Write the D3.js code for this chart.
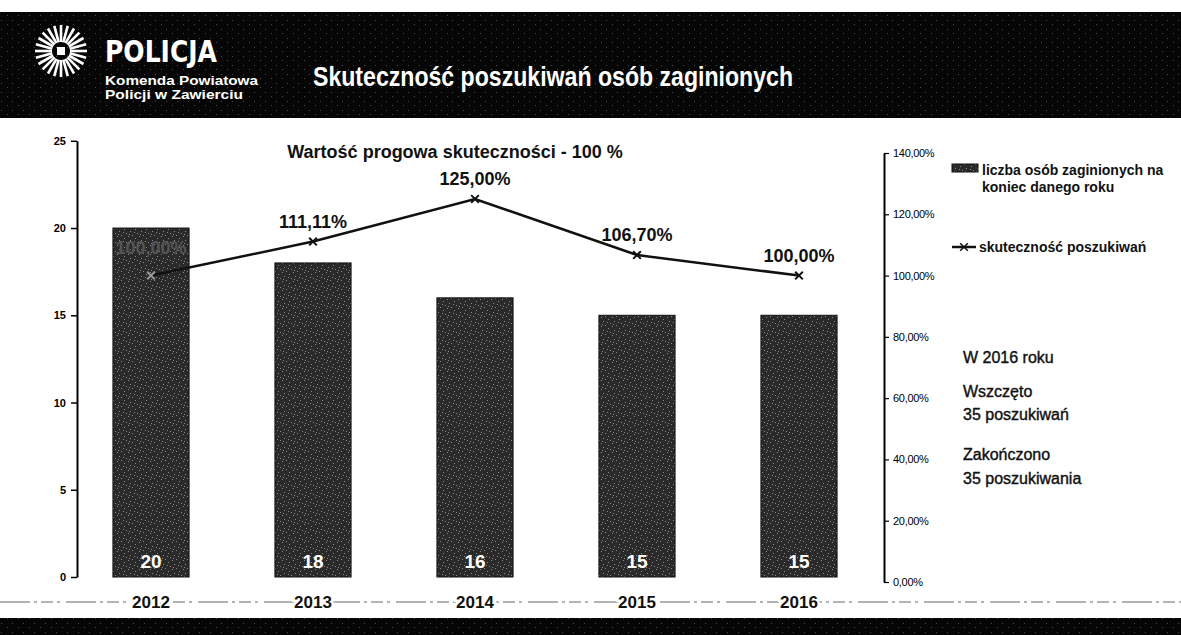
<!DOCTYPE html>
<html>
<head>
<meta charset="utf-8">
<script src="https://cdn.jsdelivr.net/npm/d3@7"></script>
<style>
  html, body { margin: 0; padding: 0; background: #fff; }
  svg { display: block; font-family: "Liberation Sans", Arial, sans-serif; }
</style>
</head>
<body>
<div id="chart"></div>
<script>
const years = ["2012", "2013", "2014", "2015", "2016"];
const missingCount = [20, 18, 16, 15, 15];
const efficiency = [1.0, 1.1111, 1.25, 1.067, 1.0];
const efficiencyLabels = ["100,00%", "111,11%", "125,00%", "106,70%", "100,00%"];
const leftTicks = [0, 5, 10, 15, 20, 25];
const rightTicks = [0, 0.2, 0.4, 0.6, 0.8, 1.0, 1.2, 1.4];
const legendBar = ["liczba osób zaginionych na", "koniec danego roku"];
const legendLine = "skuteczność poszukiwań";
const notes = ["W 2016 roku", "Wszczęto", "35 poszukiwań", "Zakończono", "35 poszukiwania"];

const W = 1181, H = 635;
const svg = d3.select("#chart").append("svg")
    .attr("width", W)
    .attr("height", H);

// speckle textures for the scanned look
var defs = svg.append("defs");
function speckle(id, base, dot, dots) {
    var p = defs.append("pattern")
        .attr("id", id)
        .attr("width", 11).attr("height", 9)
        .attr("patternUnits", "userSpaceOnUse");
    p.append("rect").attr("width", 11).attr("height", 9).attr("fill", base);
    dots.forEach(function(d) {
        p.append("rect").attr("x", d[0]).attr("y", d[1])
            .attr("width", 1).attr("height", 1).attr("fill", dot);
    });
}
speckle("bandNoise", "#060606", "#4a4a4a", [[1, 2], [7, 6]]);
speckle("barNoise", "#2a2a2a", "#8a8a8a", [[0, 1], [3, 4], [7, 2], [9, 6], [5, 8], [2, 7], [8, 0]]);

// header band
svg.append("rect").attr("x", 0).attr("y", 12).attr("width", W).attr("height", 106)
    .attr("fill", "url(#bandNoise)");
svg.append("rect").attr("x", 0).attr("y", 618).attr("width", W).attr("height", 17)
    .attr("fill", "url(#bandNoise)");

// logo star
var star = svg.append("g").attr("transform", "translate(61,51)")
    .attr("stroke", "#fff").attr("stroke-width", 2.6);
d3.range(0, 360, 15).forEach(function(a) {
    var r = a * Math.PI / 180;
    star.append("line")
        .attr("x1", Math.cos(r) * 9).attr("y1", Math.sin(r) * 9)
        .attr("x2", Math.cos(r) * 26).attr("y2", Math.sin(r) * 26);
});
star.append("rect").attr("x", -4).attr("y", -4).attr("width", 8).attr("height", 8)
    .attr("fill", "#fff").attr("stroke", "none");

svg.append("text").attr("x", 105).attr("y", 62)
    .attr("fill", "#fff").attr("font-size", 30).attr("font-weight", "bold")
    .attr("font-family", "'Liberation Sans Narrow', 'DejaVu Sans Condensed', sans-serif")
    .attr("textLength", 112).attr("lengthAdjust", "spacingAndGlyphs")
    .text("POLICJA");
svg.append("text").attr("x", 105).attr("y", 85)
    .attr("fill", "#fff").attr("font-size", 13).attr("font-weight", "bold")
    .attr("textLength", 153).attr("lengthAdjust", "spacingAndGlyphs")
    .text("Komenda Powiatowa");
svg.append("text").attr("x", 105).attr("y", 99)
    .attr("fill", "#fff").attr("font-size", 13).attr("font-weight", "bold")
    .attr("textLength", 138).attr("lengthAdjust", "spacingAndGlyphs")
    .text("Policji w Zawierciu");

svg.append("text").attr("x", 313).attr("y", 86)
    .attr("fill", "#fff").attr("font-size", 28).attr("font-weight", "bold")
    .attr("textLength", 480).attr("lengthAdjust", "spacingAndGlyphs")
    .text("Skuteczność poszukiwań osób zaginionych");

// scales
var x = d3.scaleBand().domain(years).range([70, 880])
    .paddingInner(0.53).paddingOuter(0.265);
var yL = d3.scaleLinear().domain([0, 25]).range([577, 140.8]);
var yR = d3.scaleLinear().domain([0, 1.4]).range([582, 153]);

// dashed baseline
svg.append("line").attr("x1", 0).attr("x2", W).attr("y1", 602).attr("y2", 602)
    .attr("stroke", "#666").attr("stroke-width", 1)
    .attr("stroke-dasharray", "30 4 3 4 12 4 3 6");

// left axis
var axL = svg.append("g").attr("transform", "translate(77,0)")
    .call(d3.axisLeft(yL).tickValues(leftTicks).tickSize(6).tickSizeOuter(0));
axL.select(".domain").attr("stroke", "#000").attr("stroke-width", 2);
axL.selectAll(".tick line").attr("stroke", "#000").attr("stroke-width", 1.5);
axL.selectAll(".tick text").attr("font-size", 11).attr("font-weight", "bold")
    .attr("fill", "#000").attr("x", -11)
    .attr("font-family", "'Liberation Sans', sans-serif");

// right axis
var fmtPct = function(d) { return (d * 100).toFixed(2).replace(".", ",") + "%"; };
var axR = svg.append("g").attr("transform", "translate(884,0)")
    .call(d3.axisRight(yR).tickValues(rightTicks).tickFormat(fmtPct).tickSize(5).tickSizeOuter(0));
axR.select(".domain").attr("stroke", "#000").attr("stroke-width", 2);
axR.selectAll(".tick line").attr("stroke", "#000").attr("stroke-width", 1.2);
axR.selectAll(".tick text").attr("font-size", 11).attr("fill", "#000").attr("x", 9)
    .attr("font-family", "'Liberation Sans', sans-serif")
    .attr("letter-spacing", -0.3);

// bars
svg.append("g").selectAll("rect")
    .data(years)
    .join("rect")
    .attr("x", function(d) { return x(d); })
    .attr("y", function(d, i) { return yL(missingCount[i]); })
    .attr("width", x.bandwidth())
    .attr("height", function(d, i) { return yL(0) - yL(missingCount[i]); })
    .attr("fill", "url(#barNoise)")
    .attr("stroke", "#111").attr("stroke-width", 1);

svg.append("g").selectAll("text")
    .data(years)
    .join("text")
    .attr("x", function(d) { return x(d) + x.bandwidth() / 2; })
    .attr("y", yL(0) - 9)
    .attr("text-anchor", "middle")
    .attr("fill", "#fff").attr("font-size", 19).attr("font-weight", "bold")
    .text(function(d, i) { return missingCount[i]; });

// category labels
svg.append("g").selectAll("text")
    .data(years)
    .join("text")
    .attr("x", function(d) { return x(d) + x.bandwidth() / 2; })
    .attr("y", 608)
    .attr("text-anchor", "middle")
    .attr("fill", "#111").attr("font-size", 17).attr("font-weight", "bold")
    .attr("stroke", "#fff").attr("stroke-width", 5).attr("paint-order", "stroke")
    .text(function(d) { return d; });

// efficiency line
var cx = function(i) { return x(years[i]) + x.bandwidth() / 2; };
var line = d3.line()
    .x(function(d, i) { return cx(i); })
    .y(function(d) { return yR(d); });
svg.append("path").datum(efficiency)
    .attr("d", line)
    .attr("fill", "none").attr("stroke", "#111").attr("stroke-width", 2.5);

var sym = d3.symbol().type(d3.symbolX).size(40);
svg.append("g").selectAll("path")
    .data(efficiency)
    .join("path")
    .attr("transform", function(d, i) { return "translate(" + cx(i) + "," + yR(d) + ")"; })
    .attr("d", sym)
    .attr("fill", "none")
    .attr("stroke", function(d, i) { return i === 0 ? "#999" : "#111"; })
    .attr("stroke-width", 2);

svg.append("g").selectAll("text")
    .data(efficiency)
    .join("text")
    .attr("x", function(d, i) { return cx(i); })
    .attr("y", function(d, i) { return i === 0 ? yR(d) - 22 : yR(d) - 14; })
    .attr("text-anchor", "middle")
    .attr("fill", function(d, i) { return i === 0 ? "#555" : "#111"; })
    .attr("font-size", 18).attr("font-weight", "bold")
    .text(function(d, i) { return efficiencyLabels[i]; });

// chart subtitle
svg.append("text").attr("x", 455).attr("y", 158)
    .attr("text-anchor", "middle")
    .attr("fill", "#111").attr("font-size", 18).attr("font-weight", "bold")
    .text("Wartość progowa skuteczności - 100 %");

// legend
var lg = svg.append("g");
lg.append("rect").attr("x", 952).attr("y", 164).attr("width", 26).attr("height", 8)
    .attr("fill", "url(#barNoise)").attr("stroke", "#111");
lg.selectAll("text.bar")
    .data(legendBar)
    .join("text")
    .attr("class", "bar")
    .attr("x", 982)
    .attr("y", function(d, i) { return 175 + i * 17; })
    .attr("fill", "#111").attr("font-size", 14).attr("font-weight", "bold")
    .text(function(d) { return d; });
lg.append("line").attr("x1", 952).attr("x2", 976).attr("y1", 247).attr("y2", 247)
    .attr("stroke", "#111").attr("stroke-width", 2.5);
lg.append("path").attr("transform", "translate(964,247)").attr("d", sym)
    .attr("fill", "none").attr("stroke", "#111").attr("stroke-width", 1.5);
lg.append("text").attr("x", 979).attr("y", 252)
    .attr("fill", "#111").attr("font-size", 14).attr("font-weight", "bold")
    .text(legendLine);

// notes
var noteY = [363, 397, 420, 460, 484];
svg.append("g").selectAll("text")
    .data(notes)
    .join("text")
    .attr("x", 963)
    .attr("y", function(d, i) { return noteY[i]; })
    .attr("fill", "#111").attr("font-size", 16)
    .attr("stroke", "#111").attr("stroke-width", 0.4)
    .text(function(d) { return d; });
</script>
</body>
</html>
